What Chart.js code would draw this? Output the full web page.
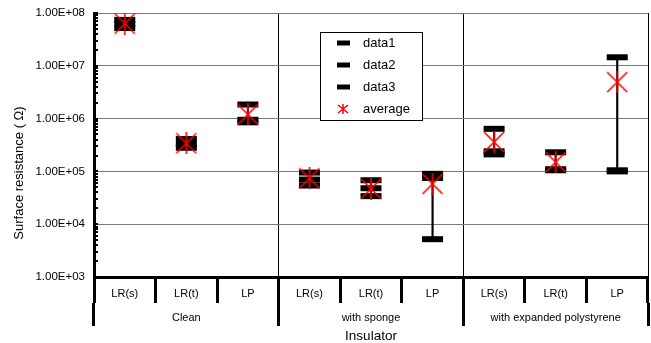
<!DOCTYPE html>
<html>
<head>
<meta charset="utf-8">
<script src="https://cdn.jsdelivr.net/npm/chart.js@4.4.1/dist/chart.umd.min.js"></script>
<style>
  html, body { margin: 0; padding: 0; background: #fff; overflow: hidden; }
  #wrap { width: 651px; height: 343px; position: relative; }
  #chart { display: block; }
</style>
</head>
<body>
<div id="wrap"><canvas id="chart"></canvas></div>
<script>
// values (surface resistance, ohm)
const categories = ['LR(s)', 'LR(t)', 'LP', 'LR(s)', 'LR(t)', 'LP', 'LR(s)', 'LR(t)', 'LP'];
const groups = ['Clean', 'with sponge', 'with expanded polystyrene'];
const data1 = [7.4e7, 4.1e5, 1.85e6, 9.5e4, 6.8e4, 9.0e4, 6.4e5, 2.3e5, 1.45e7];
const data2 = [6.2e7, 3.3e5, 9.5e5, 7.0e4, 4.8e4, 7.5e4, 2.4e5, 1.1e5, 1.05e5];
const data3 = [5.2e7, 2.8e5, 8.5e5, 5.4e4, 3.4e4, 5.2e3, 2.1e5, 1.05e5, 1.0e5];
const average = [6.3e7, 3.4e5, 1.2e6, 7.4e4, 4.7e4, 5.8e4, 3.6e5, 1.5e5, 4.9e6];
const yDecades = [1e3, 1e4, 1e5, 1e6, 1e7, 1e8];

const FONT = "'Liberation Sans', Arial, sans-serif";

// min..max line behind the markers
const ranges = data1.map((v, i) => {
  const vals = [v, data2[i], data3[i]];
  return [Math.min(...vals), Math.max(...vals)];
});

// decades plus 2..9 minor ticks
const yTicks = [];
yDecades.forEach((d, i) => {
  yTicks.push(d);
  if (i < yDecades.length - 1) {
    for (let m = 2; m <= 9; m++) yTicks.push(d * m);
  }
});

const isDecade = (v) => {
  const e = Math.log10(v);
  return Math.abs(e - Math.round(e)) < 1e-9;
};

// no extra label padding, the layout padding decides the plot box
const noPad = (s) => {
  s.paddingLeft = 0;
  s.paddingRight = 0;
  s.paddingTop = 0;
  s.paddingBottom = 0;
};

// red "*" marker: X with a vertical stroke
function makeStar(size, lw) {
  const c = document.createElement('canvas');
  c.width = size;
  c.height = size;
  const g = c.getContext('2d');
  g.strokeStyle = '#ff0000';
  g.lineWidth = lw;
  g.beginPath();
  g.moveTo(1, 1); g.lineTo(size - 1, size - 1);
  g.moveTo(size - 1, 1); g.lineTo(1, size - 1);
  g.moveTo(size / 2, 0); g.lineTo(size / 2, size);
  g.stroke();
  return c;
}
const starImg = makeStar(22, 1.6);

const boxLegend = {
  id: 'boxLegend',
  afterDraw(chart) {
    const { ctx } = chart;
    const bx = 320, by = 32, bw = 102, bh = 88;
    ctx.save();
    ctx.fillStyle = '#fff';
    ctx.fillRect(bx, by, bw, bh);
    ctx.strokeStyle = '#000';
    ctx.lineWidth = 1;
    ctx.strokeRect(bx + 0.5, by + 0.5, bw, bh);
    const items = chart.data.datasets.filter((d) => d.label !== 'range');
    ctx.font = '13px ' + FONT;
    ctx.textBaseline = 'middle';
    ctx.textAlign = 'left';
    items.forEach((d, i) => {
      const cy = 43 + i * 22;
      if (d.label === 'average') {
        ctx.strokeStyle = '#ff0000';
        ctx.lineWidth = 1.5;
        ctx.beginPath();
        ctx.moveTo(338, cy - 4); ctx.lineTo(348, cy + 4);
        ctx.moveTo(348, cy - 4); ctx.lineTo(338, cy + 4);
        ctx.moveTo(343, cy - 5); ctx.lineTo(343, cy + 5);
        ctx.stroke();
      } else {
        ctx.fillStyle = '#000';
        ctx.fillRect(337, cy - 2.5, 13, 5);
      }
      ctx.fillStyle = '#000';
      ctx.fillText(d.label, 363, cy);
    });
    ctx.restore();
  },
};

// y title and small inside ticks on the value axis
const axisExtras = {
  id: 'axisExtras',
  afterDraw(chart) {
    const { ctx, chartArea } = chart;
    const y = chart.scales.y;
    ctx.save();
    ctx.strokeStyle = '#000';
    ctx.lineWidth = 2;
    y.ticks.forEach((t) => {
      const py = Math.round(y.getPixelForValue(t.value));
      ctx.beginPath();
      ctx.moveTo(chartArea.left, py);
      ctx.lineTo(chartArea.left + 4, py);
      ctx.stroke();
    });
    ctx.translate(19, 173);
    ctx.rotate(-Math.PI / 2);
    ctx.font = '13px ' + FONT;
    ctx.fillStyle = '#000';
    ctx.textAlign = 'center';
    ctx.textBaseline = 'middle';
    ctx.fillText('Surface resistance ( \u03a9)', 0, 0);
    ctx.restore();
  },
};

new Chart(document.getElementById('chart'), {
  type: 'bar',
  data: {
    labels: categories,
    datasets: [
      {
        type: 'bar',
        label: 'range',
        data: ranges,
        backgroundColor: '#000',
        barThickness: 1.5,
        order: 5,
      },
      {
        type: 'line',
        label: 'data1',
        data: data1,
        showLine: false,
        pointStyle: 'line',
        pointRadius: 10.5,
        pointBorderWidth: 6,
        pointBorderColor: '#000',
        clip: false,
        order: 3,
      },
      {
        type: 'line',
        label: 'data2',
        data: data2,
        showLine: false,
        pointStyle: 'line',
        pointRadius: 10.5,
        pointBorderWidth: 6,
        pointBorderColor: '#000',
        clip: false,
        order: 3,
      },
      {
        type: 'line',
        label: 'data3',
        data: data3,
        showLine: false,
        pointStyle: 'line',
        pointRadius: 10.5,
        pointBorderWidth: 6,
        pointBorderColor: '#000',
        clip: false,
        order: 3,
      },
      {
        type: 'line',
        label: 'average',
        data: average,
        showLine: false,
        pointStyle: starImg,
        pointRadius: 11,
        clip: false,
        order: 1,
      },
    ],
  },
  options: {
    responsive: true,
    maintainAspectRatio: false,
    animation: false,
    events: [],
    layout: { autoPadding: false, padding: { left: 0, right: 3, top: 13, bottom: 0 } },
    plugins: {
      legend: { display: false },
      tooltip: { enabled: false },
    },
    scales: {
      x: {
        type: 'category',
        position: 'bottom',
        offset: true,
        weight: 0,
        border: { display: true, color: '#000', width: 3 },
        grid: {
          offset: true,
          drawOnChartArea: false,
          tickLength: 26,
          tickWidth: 3,
          tickColor: '#000',
        },
        ticks: {
          color: '#000',
          font: { family: FONT, size: 11 },
          padding: -16,
          maxRotation: 0,
          autoSkip: false,
        },
        afterFit: (s) => { s.height = 26; noPad(s); },
      },
      x2: {
        type: 'category',
        labels: groups,
        position: 'bottom',
        offset: true,
        weight: 1,
        border: { display: false },
        grid: {
          offset: true,
          drawOnChartArea: true,
          color: '#000',
          lineWidth: 1,
          tickLength: 23,
          tickWidth: 3,
          tickColor: '#000',
        },
        ticks: {
          color: '#000',
          font: { family: FONT, size: 11 },
          padding: -15,
          maxRotation: 0,
          autoSkip: false,
        },
        title: {
          display: true,
          text: 'Insulator',
          color: '#000',
          font: { family: FONT, size: 13.5 },
          padding: { top: 0, bottom: -1 },
        },
        afterFit: (s) => { s.height = 40; noPad(s); },
      },
      y: {
        type: 'logarithmic',
        position: 'left',
        min: 1e3,
        max: 1e8,
        border: { display: true, color: '#000', width: 3 },
        grid: {
          drawTicks: false,
          lineWidth: 1,
          color: (c) => (c.tick && isDecade(c.tick.value) ? '#7a7a7a' : 'rgba(0,0,0,0)'),
        },
        ticks: {
          color: '#000',
          font: { family: FONT, size: 11.5 },
          padding: 9,
          autoSkip: false,
          callback: (v) => {
            if (!isDecade(v)) return '';
            return '1.00E+' + String(Math.round(Math.log10(v))).padStart(2, '0');
          },
        },
        afterBuildTicks: (s) => {
          s.ticks = yTicks.map((v) => ({ value: v }));
        },
        afterFit: (s) => { s.width = 94; noPad(s); },
      },
    },
  },
  plugins: [boxLegend, axisExtras],
});
</script>
</body>
</html>
